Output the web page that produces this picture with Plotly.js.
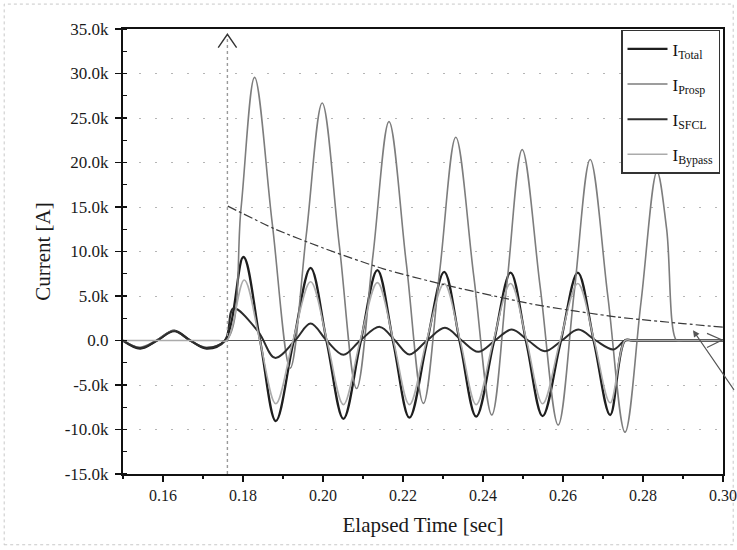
<!DOCTYPE html>
<html>
<head>
<meta charset="utf-8">
<script src="https://cdn.plot.ly/plotly-3.0.1.min.js"></script>
<style>
html,body{margin:0;padding:0;background:#fff;}
#chart{width:737px;height:550px;}
</style>
</head>
<body>
<div id="chart"></div>
<script>
// ---- data (time in s, current in A) ----
var seriesNames = ['I<sub>Total</sub>', 'I<sub>Prosp</sub>', 'I<sub>SFCL</sub>', 'I<sub>Bypass</sub>'];

var tTotal = [0.150, 0.1543, 0.1585, 0.1628, 0.1668, 0.1709, 0.1755, 0.1801, 0.1842, 0.1882, 0.1925, 0.1969, 0.2010, 0.2051, 0.2093, 0.2136, 0.2176, 0.2216, 0.2259, 0.2303, 0.2343, 0.2383, 0.2426, 0.2469, 0.2509, 0.2549, 0.2593, 0.2637, 0.2678, 0.2718, 0.2755, 0.2775, 0.300];
var iTotal = [0, -900, 0, 1100, 0, -900, 0, 9380, 200, -9050, -400, 8150, -300, -8800, -400, 7900, -300, -8670, -400, 7700, -400, -8560, -400, 7620, -400, -8490, -400, 7620, -300, -8370, 0, 0, 0];

var tProsp = [0.150, 0.1541, 0.1583, 0.1626, 0.1667, 0.1707, 0.1762, 0.1795, 0.1829, 0.1873, 0.1918, 0.1958, 0.1998, 0.2041, 0.2084, 0.2125, 0.2165, 0.2208, 0.2251, 0.2292, 0.2332, 0.2377, 0.2422, 0.2460, 0.2498, 0.2543, 0.2588, 0.2628, 0.2668, 0.2712, 0.2755, 0.2795, 0.2835, 0.2859, 0.2884, 0.2900, 0.300];
var iProsp = [0, -750, 0, 1100, 0, -750, 200, 14800, 29560, 13200, -3100, 11800, 26680, 10600, -5400, 9600, 24590, 8770, -7060, 7900, 22830, 7200, -8370, 6500, 21450, 6000, -9500, 5400, 20330, 5000, -10300, 4300, 18980, 12560, 0, 0, 0];

var tSFCL = [0.150, 0.1543, 0.1585, 0.1628, 0.1668, 0.1709, 0.1755, 0.1776, 0.1838, 0.1880, 0.1930, 0.1969, 0.2009, 0.2051, 0.2093, 0.2142, 0.2180, 0.2216, 0.2260, 0.2305, 0.2347, 0.2388, 0.2430, 0.2472, 0.2513, 0.2555, 0.2597, 0.2638, 0.2682, 0.2726, 0.2755, 0.2775, 0.300];
var iSFCL = [0, -850, 0, 1050, 0, -850, 0, 3600, 1000, -1950, 0, 1900, 0, -1600, 0, 1530, 0, -1570, 0, 1420, 0, -1270, 0, 1230, 0, -1200, 0, 1230, 0, -1000, 0, 0, 0];

var tBypass = [0.150, 0.1740, 0.1760, 0.1803, 0.1842, 0.1882, 0.1925, 0.1969, 0.2010, 0.2051, 0.2093, 0.2136, 0.2176, 0.2216, 0.2259, 0.2303, 0.2343, 0.2383, 0.2426, 0.2469, 0.2509, 0.2549, 0.2593, 0.2637, 0.2678, 0.2718, 0.2755, 0.2775, 0.300];
var iBypass = [0, 0, 0, 6800, 0, -7100, 0, 6600, 0, -7200, 0, 6500, 0, -7200, 0, 6400, 0, -7200, 0, 6400, 0, -7100, 0, 6400, 0, -7000, 0, 0, 0];

// DC-offset envelope (dash-dot annotation line)
var tEnvelope = [0.1762, 0.1876, 0.2000, 0.2151, 0.2300, 0.2534, 0.2734, 0.2900, 0.3000];
var iEnvelope = [15100, 12600, 10400, 8050, 6300, 4000, 2650, 1900, 1500];

// fault instant
var tFault = 0.1761;

// axis ticks
var yTickVals = [-15000, -10000, -5000, 0, 5000, 10000, 15000, 20000, 25000, 30000, 35000];
var yTickText = ['-15.0k', '-10.0k', '-5.0k', '0.0', '5.0k', '10.0k', '15.0k', '20.0k', '25.0k', '30.0k', '35.0k'];
var xTickVals = [0.16, 0.18, 0.20, 0.22, 0.24, 0.26, 0.28, 0.30];
var xTickText = ['0.16', '0.18', '0.20', '0.22', '0.24', '0.26', '0.28', '0.30'];

var FONT = 'Liberation Serif';

var traces = [
  {x: tTotal, y: iTotal, name: seriesNames[0], legendgroup: 'a', mode: 'lines',
   line: {color: '#1e1e1e', width: 2.3, shape: 'spline', smoothing: 1}},
  {x: tProsp, y: iProsp, name: seriesNames[1], legendgroup: 'b', mode: 'lines',
   line: {color: '#7d7d7d', width: 1.6, shape: 'spline', smoothing: 1}},
  {x: tSFCL, y: iSFCL, name: seriesNames[2], legendgroup: 'c', mode: 'lines',
   line: {color: '#2c2c2c', width: 2.0, shape: 'spline', smoothing: 1}},
  {x: tBypass, y: iBypass, name: seriesNames[3], legendgroup: 'd', mode: 'lines',
   line: {color: '#ababab', width: 1.6, shape: 'spline', smoothing: 1}},
  {x: tEnvelope, y: iEnvelope, showlegend: false, mode: 'lines', hoverinfo: 'skip',
   line: {color: '#3a3a3a', width: 1.2, dash: 'dashdot', shape: 'spline', smoothing: 0.6}}
];

var layout = {
  width: 737, height: 550,
  margin: {l: 123, r: 14, t: 29, b: 76},
  paper_bgcolor: '#ffffff', plot_bgcolor: '#ffffff',
  font: {family: FONT, color: '#1a1a1a'},
  showlegend: true,
  legend: {
    x: 0.83, y: 0.998, xanchor: 'left', yanchor: 'top',
    bgcolor: '#ffffff', bordercolor: '#333333', borderwidth: 1.5,
    font: {family: FONT, size: 17, color: '#111'},
    tracegroupgap: 10, itemwidth: 40
  },
  xaxis: {
    range: [0.15, 0.30], tickmode: 'array', tickvals: xTickVals, ticktext: xTickText,
    ticks: 'outside', ticklen: 6, tickwidth: 1.5, tickcolor: '#111',
    minor: {ticks: 'outside', ticklen: 3, tickwidth: 1.2, tickcolor: '#111', dtick: 0.01, tick0: 0.15, showgrid: false},
    showline: true, linecolor: '#111', linewidth: 2, mirror: true,
    showgrid: false, zeroline: false,
    tickfont: {family: FONT, size: 16, color: '#1a1a1a'},
    title: {text: 'Elapsed Time [sec]', font: {family: FONT, size: 21, color: '#1a1a1a'}, standoff: 14}
  },
  yaxis: {
    range: [-15000, 35000], tickmode: 'array', tickvals: yTickVals, ticktext: yTickText,
    ticks: 'outside', ticklen: 6, tickwidth: 1.5, tickcolor: '#111', ticklabelstandoff: 3,
    minor: {ticks: 'inside', ticklen: 4, tickwidth: 1.2, tickcolor: '#111', dtick: 2500, tick0: 0, showgrid: false},
    showline: true, linecolor: '#111', linewidth: 2, mirror: true,
    showgrid: true, gridcolor: '#b5b5b5', gridwidth: 1, griddash: '2px,14px',
    zeroline: true, zerolinecolor: '#5a5a5a', zerolinewidth: 1.6,
    tickfont: {family: FONT, size: 17, color: '#1a1a1a'},
    title: {text: 'Current [A]', font: {family: FONT, size: 21, color: '#1a1a1a'}, standoff: 8}
  },
  shapes: [
    // scan border of the figure
    {type: 'rect', xref: 'paper', yref: 'paper', x0: -0.198, x1: 1.017, y0: -0.159, y1: 1.056,
     line: {color: '#c8c8c8', width: 1, dash: 'dot'}},
    // fault-instant arrow (vertical line + open head)
    {type: 'line', xref: 'x', yref: 'y', x0: tFault, x1: tFault, y0: -15000, y1: 34300,
     line: {color: '#9a9a9a', width: 1.4, dash: 'dot'}},
    {type: 'path', xref: 'x', yref: 'y',
     path: 'M 0.1738 32900 L ' + tFault + ' 34400 L 0.1784 32900',
     line: {color: '#333', width: 1.4}},
    // open ">" head at right end of zero line
    {type: 'path', xref: 'x', yref: 'y',
     path: 'M 0.2960 800 L 0.2998 50 L 0.2960 -780',
     line: {color: '#555', width: 1.2}}
  ],
  annotations: [
    {x: 0.2925, y: 1150, xref: 'x', yref: 'y', ax: 46, ay: 64, axref: 'pixel', ayref: 'pixel',
     showarrow: true, arrowhead: 2, arrowsize: 1.2, arrowwidth: 1.1, arrowcolor: '#555', text: ' '}
  ]
};

Plotly.newPlot('chart', traces, layout, {displayModeBar: false, staticPlot: true});
</script>
</body>
</html>
